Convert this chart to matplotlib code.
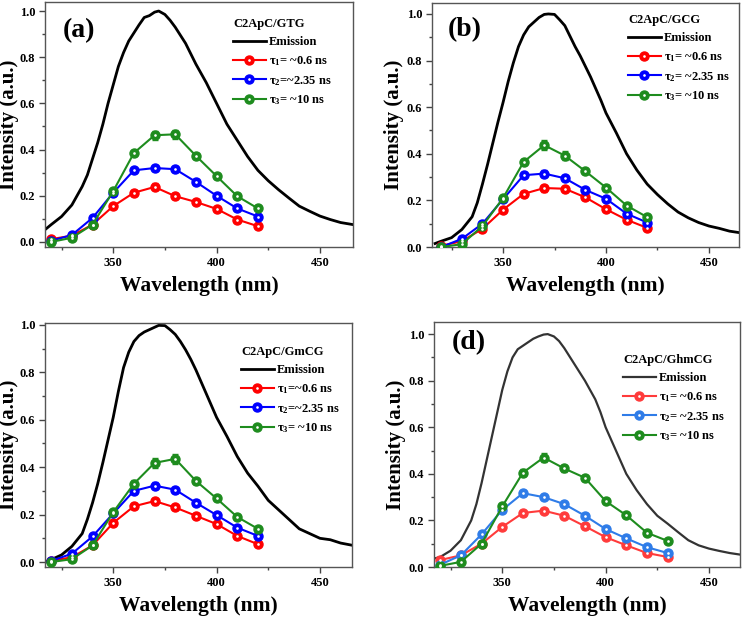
import numpy as np
import matplotlib
matplotlib.use("Agg")
import matplotlib.pyplot as plt
from matplotlib.legend_handler import HandlerTuple
from matplotlib.ticker import MultipleLocator

plt.rcParams['font.family'] = ['Liberation Serif', 'DejaVu Serif']
plt.rcParams['font.weight'] = 'bold'
plt.rcParams['mathtext.fontset'] = 'custom'
plt.rcParams['mathtext.rm'] = 'Liberation Serif:bold'
plt.rcParams['mathtext.it'] = 'Liberation Serif:bold'
plt.rcParams['mathtext.bf'] = 'Liberation Serif:bold'

# ---------------- data ----------------
em_x = [317, 320, 325, 330,
        335, 337.5, 340, 342.5, 345, 347.5, 350, 352.5, 355, 357.5, 360, 362.5, 365, 367.5,
        370, 372, 375, 377.5, 380, 382.5, 385, 387.5, 390, 392.5, 395, 397.5, 400,
        405, 410, 415, 420, 425, 430, 435, 440, 445, 450, 455, 460, 466]

em_a = [0.053, 0.075, 0.11, 0.16,
        0.24, 0.29, 0.36, 0.43, 0.51, 0.60, 0.68, 0.76, 0.82, 0.87, 0.905, 0.94, 0.972, 0.98,
        0.995, 1.0, 0.985, 0.96, 0.93, 0.895, 0.86, 0.815, 0.77, 0.73, 0.69, 0.645, 0.60,
        0.51, 0.44, 0.37, 0.31, 0.265, 0.226, 0.19, 0.155, 0.133, 0.112, 0.097, 0.084, 0.075]
em_b = [0.015, 0.025, 0.04, 0.075,
        0.13, 0.19, 0.27, 0.355, 0.445, 0.535, 0.62, 0.71, 0.79, 0.86, 0.91, 0.945, 0.965, 0.985,
        0.998, 1.0, 0.998, 0.975, 0.95, 0.905, 0.86, 0.82, 0.775, 0.73, 0.68, 0.63, 0.575,
        0.49, 0.40, 0.33, 0.27, 0.225, 0.185, 0.15, 0.125, 0.105, 0.09, 0.08, 0.068, 0.06]
em_c = [0.0, 0.01, 0.03, 0.066,
        0.12, 0.18, 0.25, 0.33, 0.42, 0.515, 0.61, 0.72, 0.82, 0.885, 0.93, 0.955, 0.97, 0.98,
        0.99, 0.998, 0.997, 0.98, 0.96, 0.93, 0.895, 0.855, 0.81, 0.76, 0.71, 0.66, 0.61,
        0.53, 0.445, 0.375, 0.32, 0.26, 0.22, 0.18, 0.14, 0.12, 0.10, 0.094, 0.08, 0.07]
em_d = [0.036, 0.043, 0.07, 0.115,
        0.20, 0.27, 0.36, 0.46, 0.56, 0.66, 0.76, 0.84, 0.90, 0.935, 0.95, 0.965, 0.98, 0.99,
        0.998, 1.0, 0.99, 0.97, 0.94, 0.905, 0.87, 0.835, 0.80, 0.76, 0.72, 0.665, 0.60,
        0.50, 0.40, 0.33, 0.27, 0.22, 0.186, 0.15, 0.115, 0.093, 0.079, 0.069, 0.06, 0.052]

wl_abc = [320, 330, 340, 350, 360, 370, 380, 390, 400, 410, 420]
wl_d = [320, 330, 340, 350, 360, 370, 380, 390, 400, 410, 420, 430]

t1_a = [0.012, 0.027, 0.075, 0.155, 0.213, 0.238, 0.198, 0.173, 0.143, 0.097, 0.068]
t2_a = [0.005, 0.03, 0.104, 0.213, 0.31, 0.32, 0.315, 0.26, 0.20, 0.145, 0.11]
t3_a = [0.0, 0.018, 0.075, 0.22, 0.385, 0.462, 0.466, 0.373, 0.285, 0.198, 0.145]

t1_b = [0.005, 0.025, 0.078, 0.16, 0.228, 0.253, 0.25, 0.213, 0.162, 0.117, 0.082]
t2_b = [0.0, 0.035, 0.10, 0.205, 0.308, 0.315, 0.295, 0.245, 0.207, 0.143, 0.105]
t3_b = [0.0, 0.012, 0.09, 0.21, 0.365, 0.437, 0.392, 0.325, 0.255, 0.178, 0.128]

t1_c = [0.005, 0.02, 0.07, 0.165, 0.235, 0.257, 0.23, 0.195, 0.16, 0.11, 0.075]
t2_c = [0.005, 0.035, 0.108, 0.205, 0.30, 0.322, 0.305, 0.25, 0.198, 0.145, 0.11]
t3_c = [0.0, 0.012, 0.07, 0.21, 0.33, 0.418, 0.435, 0.342, 0.268, 0.19, 0.14]

t1_d = [0.03, 0.05, 0.10, 0.172, 0.232, 0.242, 0.22, 0.175, 0.128, 0.093, 0.06, 0.043]
t2_d = [0.01, 0.05, 0.14, 0.245, 0.317, 0.30, 0.27, 0.22, 0.163, 0.123, 0.085, 0.06]
t3_d = [0.005, 0.022, 0.10, 0.26, 0.405, 0.47, 0.423, 0.383, 0.283, 0.222, 0.147, 0.112]

err_abc = [0.005, 0.006, 0.008, 0.01, 0.012, 0.015, 0.012, 0.01, 0.008, 0.007, 0.006]
err3_abc = [0.005, 0.006, 0.008, 0.01, 0.014, 0.02, 0.02, 0.012, 0.01, 0.008, 0.006]
err_d = [0.005, 0.006, 0.008, 0.01, 0.012, 0.012, 0.01, 0.01, 0.008, 0.007, 0.006, 0.006]
err3_d = [0.005, 0.006, 0.008, 0.01, 0.014, 0.02, 0.015, 0.014, 0.01, 0.008, 0.007, 0.006]

titles = ["C2ApC/GTG", "C2ApC/GCG", "C2ApC/GmCG", "C2ApC/GhmCG"]
panel_labels = ["(a)", "(b)", None, "(d)"]
labels_a = [r"$\tau_1$= ~0.6 ns", r"$\tau_2$=~2.35 ns", r"$\tau_3$= ~10 ns"]
labels_b = [r"$\tau_1$= ~0.6 ns", r"$\tau_2$= ~2.35 ns", r"$\tau_3$= ~10 ns"]
labels_c = [r"$\tau_1$=~0.6 ns", r"$\tau_2$=~2.35 ns", r"$\tau_3$= ~10 ns"]
labels_d = [r"$\tau_1$= ~0.6 ns", r"$\tau_2$= ~2.35 ns", r"$\tau_3$= ~10 ns"]

# ---------------- layout ----------------
W, H = 742, 620
fig = plt.figure(figsize=(W / 100, H / 100), dpi=100)

def rect(l, t, r, b):
    return [l / W, 1 - b / H, (r - l) / W, (b - t) / H]

panels = [
    dict(box=(45, 2, 353, 247), xlim=(317, 466), ylim=(-0.022, 1.039),
         em=em_a, wl=wl_abc, ys=[t1_a, t2_a, t3_a], errs=[err_abc, err_abc, err3_abc],
         labels=labels_a, em_color='black', cols=['#ff0000', '#0000ff', '#1e8c1e'],
         leg=(233, 18), plab=(79, 31), ylab_x=19),
    dict(box=(432, 3, 739, 247), xlim=(315.5, 464.6), ylim=(0.0, 1.047),
         em=em_b, wl=wl_abc, ys=[t1_b, t2_b, t3_b], errs=[err_abc, err_abc, err3_abc],
         labels=labels_b, em_color='black', cols=['#ff0000', '#0000ff', '#1e8c1e'],
         leg=(628, 14), plab=(465, 30), ylab_x=404),
    dict(box=(45, 323, 352, 567), xlim=(317, 465.5), ylim=(-0.021, 1.008),
         em=em_c, wl=wl_abc, ys=[t1_c, t2_c, t3_c], errs=[err_abc, err_abc, err3_abc],
         labels=labels_c, em_color='black', cols=['#ff0000', '#0000ff', '#1e8c1e'],
         leg=(241, 346), plab=None, ylab_x=19),
    dict(box=(434, 322, 740, 567), xlim=(317, 465), ylim=(0.0, 1.052),
         em=em_d, wl=wl_d, ys=[t1_d, t2_d, t3_d], errs=[err_d, err_d, err3_d],
         labels=labels_d, em_color='#333333', cols=['#ff3b3b', '#2f7ce8', '#1e8c1e'],
         leg=(623, 354), plab=(469, 343), ylab_x=406),
]

for i, p in enumerate(panels):
    l, t, r, b = p['box']
    ax = fig.add_axes(rect(l, t, r, b))
    em_line, = ax.plot(em_x, p['em'], color=p['em_color'],
                       lw=2.0 if i < 3 else 1.6, label="Emission", zorder=2)
    handles = [em_line]
    for y, e, c in zip(p['ys'], p['errs'], p['cols']):
        eb = ax.errorbar(p['wl'], y, yerr=e, color=c, lw=1.5, marker='o', ms=6.5,
                         mfc=c, mec=c, capsize=2, elinewidth=1, capthick=1, zorder=3)
        dot, = ax.plot(p['wl'], y, linestyle='none', marker='o', ms=0.9,
                       color='white', zorder=4)
        handles.append((eb.lines[0], dot))
    ax.set_xlim(*p['xlim'])
    ax.set_ylim(*p['ylim'])
    ax.xaxis.set_major_locator(MultipleLocator(50))
    ax.xaxis.set_minor_locator(MultipleLocator(25))
    ax.yaxis.set_minor_locator(MultipleLocator(0.1))
    ax.set_yticks(np.arange(0, 1.01, 0.2))
    ax.set_yticklabels([f"{v:.1f}" for v in np.arange(0, 1.01, 0.2)])
    ax.tick_params(axis='both', which='major', direction='out', length=4, width=1,
                   labelsize=9, pad=3, color='#444444')
    ax.tick_params(axis='both', which='minor', direction='out', length=2.5, width=1,
                   color='#444444')
    for s in ax.spines.values():
        s.set_color('#555555')
        s.set_linewidth(1.0)
    ax.set_xlabel("Wavelength (nm)", fontsize=15.5, fontweight='bold', labelpad=5)
    ax.set_ylabel("Intensity (a.u.)", fontsize=15, fontweight='bold')
    ax.yaxis.set_label_coords((p['ylab_x'] - l) / (r - l), 0.5)

    lx, ly = p['leg']
    bl = ax.transAxes.inverted().transform(fig.transFigure.transform((lx / W, 1 - ly / H)))
    leg = ax.legend(handles, ["Emission"] + p['labels'], title=titles[i],
                    loc='upper left', bbox_to_anchor=(bl[0], bl[1]), frameon=False,
                    fontsize=9, title_fontproperties={'weight': 'bold', 'size': 9},
                    handlelength=2.6, handletextpad=0.25, labelspacing=0.48,
                    borderpad=0, borderaxespad=0, numpoints=1, alignment='left',
                    handler_map={tuple: HandlerTuple(ndivide=1)})
    for tx in leg.get_texts():
        tx.set_fontweight('bold')

    if p['plab'] is not None:
        px, py = p['plab']
        fig.text(px / W, 1 - py / H, panel_labels[i], fontsize=20, fontweight='bold',
                 ha='center', va='center')

fig.savefig("out.png", dpi=100)
